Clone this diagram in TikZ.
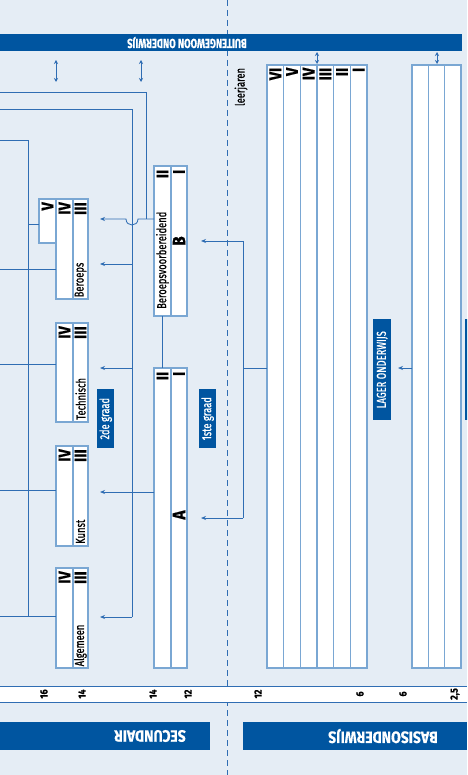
\documentclass[tikz,border=0pt]{standalone}
\usepackage{fontspec}
\setmainfont{Fira Sans}[FakeStretch=0.72,FakeBold=0.7]
\newfontfamily\romfont{Fira Sans}[FakeStretch=0.85,FakeBold=0.5]
\usetikzlibrary{arrows.meta}
\definecolor{bg}{HTML}{E5EDF5}
\definecolor{dblue}{HTML}{0055A0}
\definecolor{lblue}{HTML}{7AA7D3}
\definecolor{cblue}{HTML}{2F6DB3}
\newcommand\colbox[5]{\node[col,anchor=north west,minimum width={(#4-#2)*1pt},minimum height={(#5-#3)*1pt}] (#1) at (#2,#3) {};}
\begin{document}
\begin{tikzpicture}[x=1pt,y=-1pt,
  col/.style={draw=lblue,fill=white,line width=1.2pt,inner sep=0pt,outer sep=0pt},
  conn/.style={draw=cblue,line width=0.85pt},
  arr/.style={conn,-{Stealth[length=5pt,width=4pt]}},
  darr/.style={conn,{Stealth[length=4pt,width=4pt]}-{Stealth[length=4pt,width=4pt]}},
  rn/.style={rotate=90,inner sep=0pt,anchor=east,font=\romfont\bfseries\fontsize{17}{17}\selectfont},
  lbl/.style={rotate=90,inner sep=0pt,anchor=west,font=\fontsize{13}{13}\selectfont},
  bigl/.style={rotate=90,inner sep=0pt,font=\romfont\bfseries\fontsize{18}{18}\selectfont},
  age/.style={rotate=90,inner sep=0pt,font=\romfont\bfseries\fontsize{10.5}{10.5}\selectfont},
  tag/.style={fill=dblue,text=white,inner sep=0pt,anchor=north west},
  head/.style={rotate=180,inner sep=0pt,text=white,font=\romfont\bfseries\fontsize{16.5}{16.5}\selectfont}
]
\useasboundingbox (0,0) rectangle (467,775);
\clip (0,0) rectangle (467,775);
\fill[bg] (0,0) rectangle (467,775);

% dashed divider
\draw[cblue,line width=1pt,dash pattern=on 6pt off 4pt] (227,0) -- (227,775);

% top banner
\fill[dblue] (0,34) rectangle (462,51);
\node[rotate=180,inner sep=0pt,text=white,font=\bfseries\fontsize{13}{13}\selectfont] (buiten) at (187,42.5) {BUITENGEWOON ONDERWIJS};

% double arrows
\coordinate (da1t) at (56,60); \coordinate (da1b) at (56,82);
\coordinate (da2t) at (141,60); \coordinate (da2b) at (141,82);
\coordinate (da3t) at (317,52); \coordinate (da3b) at (317,64);
\coordinate (da4t) at (437,52); \coordinate (da4b) at (437,64);
\draw[darr] (da1t) -- (da1b);
\draw[darr] (da2t) -- (da2b);
\draw[darr] (da3t) -- (da3b);
\draw[darr] (da4t) -- (da4b);

% leerjaren
\node[lbl,anchor=center] (leer) at (241,87) {leerjaren};

% lager onderwijs grid
\foreach \i/\t in {1/VI,2/V,3/IV,4/III,5/II,6/I}{
  \pgfmathsetmacro\xa{267+(\i-1)*16.667}
  \pgfmathsetmacro\xb{267+\i*16.667}
  \colbox{g\i}{\xa}{65}{\xb}{668}
  \node[rn] (gl\i) at ({(\xa+\xb)/2},67.5) {\t};
}
% kleuter grid
\foreach \i in {1,2,3}{
  \pgfmathsetmacro\xa{412+(\i-1)*16.333}
  \pgfmathsetmacro\xb{412+\i*16.333}
  \colbox{r\i}{\xa}{65}{\xb}{668}
}
\node[tag,minimum width=18pt,minimum height=101pt] (lager) at (373,319) {};
\node[rotate=90,text=white,inner sep=0pt,font=\fontsize{13}{13}\selectfont] (lagert) at (lager.center) {LAGER ONDERWIJS};
\fill[dblue] (465,319) rectangle (482,420);

% arrows from basis
\coordinate (j1) at (243,368);
\coordinate (jB) at (243,241);
\coordinate (jA) at (243,518);
\draw[conn] (g1.west |- j1) -- (j1);
\draw[conn] (jB) -- (jA);
\draw[arr] (jB) -- (201,241);
\draw[arr] (jA) -- (201,518);
\draw[arr] (r1.west |- j1) -- (398,368);

% 1ste graad boxes
\colbox{b1}{154}{166}{171}{316}
\colbox{b2}{171}{166}{187}{316}
\colbox{a1}{154}{368}{171}{668}
\colbox{a2}{171}{368}{187}{668}
\node[rn] (b1l) at (162.5,169.5) {II};
\node[rn] (b2l) at (179,169.5) {I};
\node[rn] (a1l) at (162.5,371.5) {II};
\node[rn] (a2l) at (179,371.5) {I};
\node[lbl] (bvb) at (162.5,309) {Beroepsvoorbereidend};
\node[bigl] (Bl) at (179,241) {B};
\node[bigl] (Al) at (179,515) {A};
\draw[conn] (b1.south) -- (a1.north);

\node[tag,minimum width=17pt,minimum height=59pt] (g1st) at (199,389) {};
\node[rotate=90,text=white,inner sep=0pt,font=\fontsize{13}{13}\selectfont] (g1stt) at (g1st.center) {1ste graad};
\node[tag,minimum width=17pt,minimum height=59pt] (g2de) at (97,389) {};
\node[rotate=90,text=white,inner sep=0pt,font=\fontsize{13}{13}\selectfont] (g2det) at (g2de.center) {2de graad};

% 2de graad boxes
\colbox{ber5}{39}{199}{56}{243}
\colbox{ber4}{56}{199}{73}{299}
\colbox{ber3}{73}{199}{88}{299}
\colbox{tec4}{56}{323}{73}{422}
\colbox{tec3}{73}{323}{88}{422}
\colbox{kun4}{56}{446}{73}{546}
\colbox{kun3}{73}{446}{88}{546}
\colbox{alg4}{56}{568}{73}{668}
\colbox{alg3}{73}{568}{88}{668}
\node[rn] (ber5l) at (47.5,202) {V};
\node[rn] (ber4l) at (64.5,202) {IV};
\node[rn] (ber3l) at (80.5,202) {III};
\node[rn] (tec4l) at (64.5,326) {IV};
\node[rn] (tec3l) at (80.5,326) {III};
\node[rn] (kun4l) at (64.5,449) {IV};
\node[rn] (kun3l) at (80.5,449) {III};
\node[rn] (alg4l) at (64.5,571) {IV};
\node[rn] (alg3l) at (80.5,571) {III};
\node[lbl] (tBer) at (80.5,297.5) {Beroeps};
\node[lbl] (tTec) at (80.5,420) {Technisch};
\node[lbl] (tKun) at (80.5,544) {Kunst};
\node[lbl] (tAlg) at (80.5,666.5) {Algemeen};

% connectors in secundair
\coordinate (p92) at (0,92); \coordinate (c92) at (146,92); \coordinate (c219) at (146,219);
\coordinate (p109) at (0,109); \coordinate (c109) at (132,109); \coordinate (c617) at (132,617);
\draw[conn] (p92) -- (c92) -- (c219);
\draw[conn] (p109) -- (c109) -- (c617);
\draw[arr] (b1.west |- c219) -- (138,219) .. controls (138,227) and (126,227) .. (126,219) -- (100,219);
\draw[arr] (132,264) -- (100,264);
\draw[arr] (132,368) -- (100,368);
\draw[arr] (a1.west |- 0,492) -- (100,492);
\draw[arr] (c617) -- (100,617);

\coordinate (q140) at (0,140); \coordinate (v140) at (28,140); \coordinate (v616) at (28,616);
\draw[conn] (q140) -- (v140) -- (v616);
\draw[conn] (28,224) -- (ber5.west |- 0,224);
\draw[conn] (0,269) -- (ber4.west |- 0,269);
\draw[conn] (0,364) -- (tec4.west |- 0,364);
\draw[conn] (0,490) -- (kun4.west |- 0,490);
\draw[conn] (0,616) -- (alg4.west |- 0,616);

% age strip
\fill[white] (0,686) rectangle (467,702);
\draw[cblue,line width=0.9pt] (0,686) -- (467,686) (0,702) -- (467,702);
\foreach \x/\t [count=\k] in {44/16,82/14,153/14,188/12,258/12,360/6,403/6,455/{2,5}}{
  \node[age] (age\k) at (\x,694) {\t};
}

% bottom banners
\fill[dblue] (0,722) rectangle (210,750);
\node[head] (sec) at (150,736) {SECUNDAIR};
\fill[dblue] (243,722) rectangle (467,750);
\node[head] (bas) at (383,736) {BASISONDERWIJS};
\end{tikzpicture}
\end{document}
